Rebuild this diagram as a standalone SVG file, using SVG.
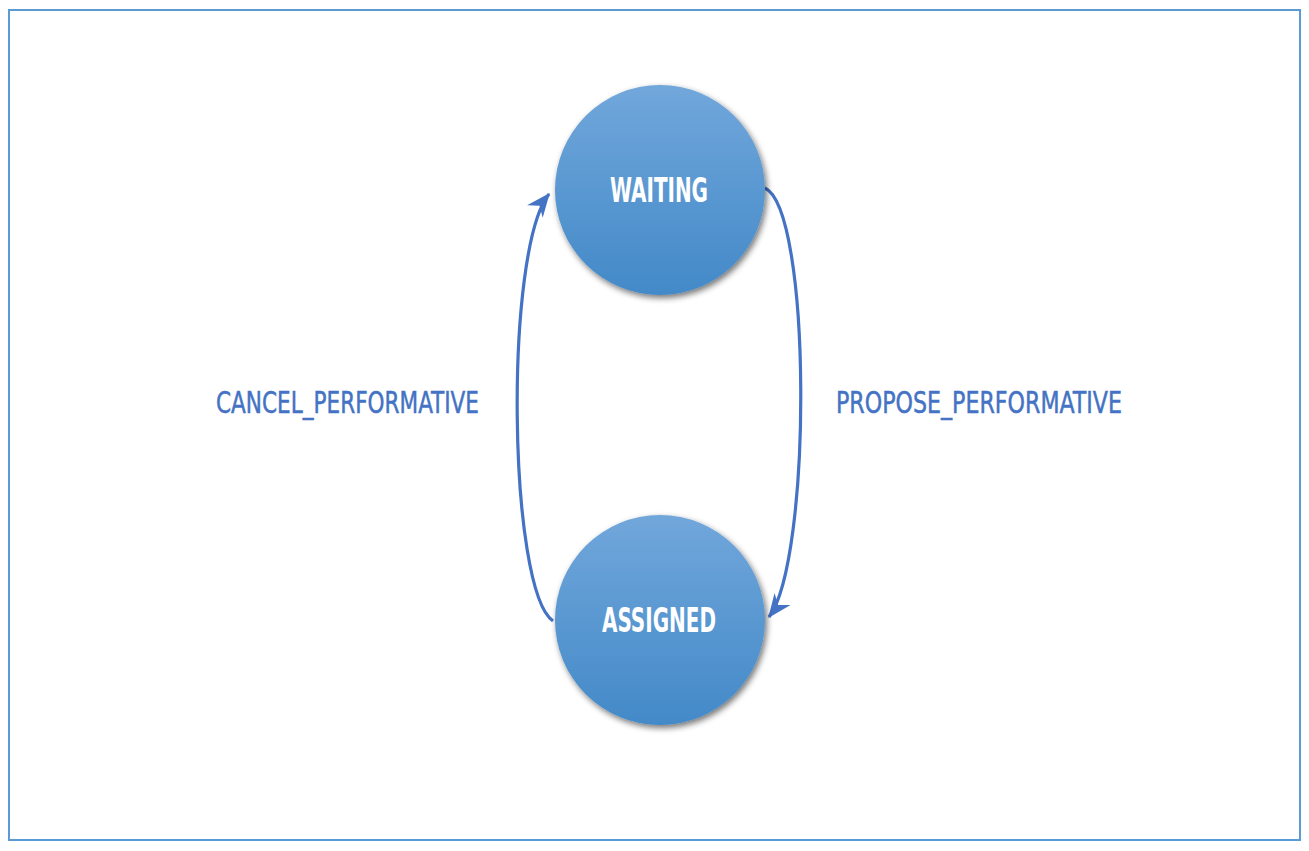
<svg xmlns="http://www.w3.org/2000/svg" width="1309" height="851" viewBox="0 0 1309 851">
<defs>
<linearGradient id="g" x1="0" y1="0" x2="0" y2="1">
<stop offset="0" stop-color="#71a7db"/>
<stop offset="1" stop-color="#4389c8"/>
</linearGradient>
<filter id="sh" x="-20%" y="-20%" width="150%" height="150%">
<feGaussianBlur in="SourceAlpha" stdDeviation="3"/>
<feOffset dx="2" dy="3" result="b"/>
<feComponentTransfer><feFuncA type="linear" slope="0.55"/></feComponentTransfer>
<feMerge><feMergeNode/><feMergeNode in="SourceGraphic"/></feMerge>
</filter>
<marker id="ah" markerUnits="userSpaceOnUse" markerWidth="30" markerHeight="30" refX="0" refY="0" viewBox="-20 -10 24 20" orient="auto">
<path d="M1,0 L-18,-8 L-12,0 L-18,8 Z" fill="#4472c4"/>
</marker>
<style>
.node{fill:url(#g);filter:url(#sh)}
.nt{font-family:"DejaVu Sans Condensed","Liberation Sans",sans-serif;font-weight:bold;fill:#ffffff;font-size:34px}
.lbl{font-family:"DejaVu Sans Condensed","Liberation Sans",sans-serif;fill:#4472c4;stroke:#4472c4;stroke-width:0.5;font-size:31px}
.edge{fill:none;stroke:#4472c4;stroke-width:3.2}
</style>
</defs>
<rect x="9" y="10" width="1291" height="830" fill="#ffffff" stroke="#5b9bd5" stroke-width="2"/>
<g id="connectors">
<path class="edge" d="M553,621 C508,590 504,250 549,194" marker-end="url(#ah)"/>
<path class="edge" d="M765,188 C812,210 812,560 769,617" marker-end="url(#ah)"/>
<text class="lbl" x="216" y="413" textLength="263" lengthAdjust="spacingAndGlyphs">CANCEL_PERFORMATIVE</text>
<text class="lbl" x="836" y="413" textLength="286" lengthAdjust="spacingAndGlyphs">PROPOSE_PERFORMATIVE</text>
</g>
<g id="waiting">
<circle class="node" cx="660" cy="190" r="105"/>
<text class="nt" x="610" y="202" textLength="98" lengthAdjust="spacingAndGlyphs">WAITING</text>
</g>
<g id="assigned">
<circle class="node" cx="660" cy="620" r="105"/>
<text class="nt" x="602" y="632" textLength="114" lengthAdjust="spacingAndGlyphs">ASSIGNED</text>
</g>
</svg>
